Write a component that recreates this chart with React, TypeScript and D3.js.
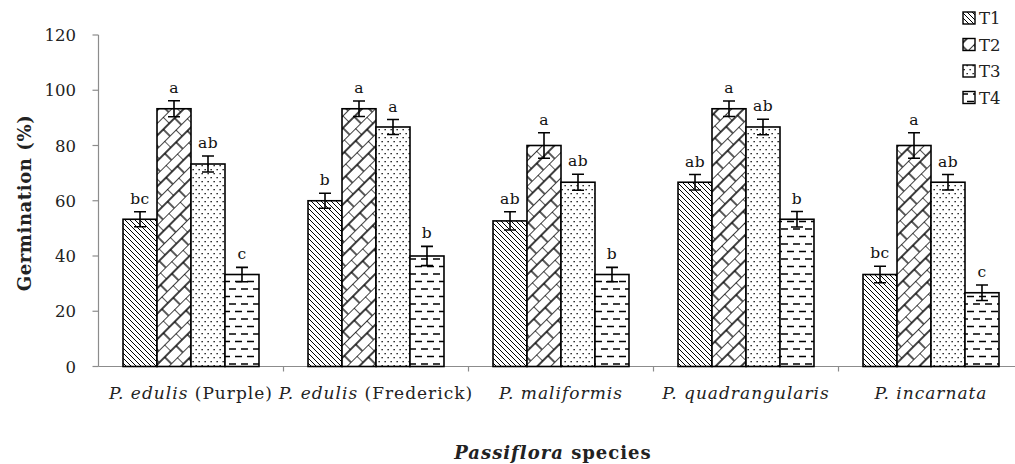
import { useRef, useEffect } from 'react';
import * as d3 from 'd3';

// Germination (%) per species and treatment
const SPECIES = ['P. edulis (Purple)', 'P. edulis (Frederick)', 'P. maliformis', 'P. quadrangularis', 'P. incarnata'];
const SPECIES_ITALIC = ['P. edulis', 'P. edulis', 'P. maliformis', 'P. quadrangularis', 'P. incarnata'];
const SPECIES_PLAIN = [' (Purple)', ' (Frederick)', '', '', ''];
const TREATMENTS = ['T1', 'T2', 'T3', 'T4'];
const T1 = [53.3, 60, 52.7, 66.7, 33.3];
const T2 = [93.3, 93.3, 80, 93.3, 80];
const T3 = [73.3, 86.7, 66.7, 86.7, 66.7];
const T4 = [33.3, 40, 33.3, 53.3, 26.7];
const ERR_T1 = [2.7, 2.7, 3.3, 2.8, 3.0];
const ERR_T2 = [2.9, 2.8, 4.6, 2.8, 4.6];
const ERR_T3 = [2.9, 2.7, 2.9, 2.8, 2.8];
const ERR_T4 = [2.6, 3.5, 2.6, 2.8, 2.8];
const LET_T1 = ['bc', 'b', 'ab', 'ab', 'bc'];
const LET_T2 = ['a', 'a', 'a', 'a', 'a'];
const LET_T3 = ['ab', 'a', 'ab', 'ab', 'ab'];
const LET_T4 = ['c', 'b', 'b', 'b', 'c'];
const Y_TICKS = [0, 20, 40, 60, 80, 100, 120];

const SERIES = [
  { key: 'T1', values: T1, err: ERR_T1, letters: LET_T1 },
  { key: 'T2', values: T2, err: ERR_T2, letters: LET_T2 },
  { key: 'T3', values: T3, err: ERR_T3, letters: LET_T3 },
  { key: 'T4', values: T4, err: ERR_T4, letters: LET_T4 },
];

const FONT = "'DejaVu Serif', serif";

export default function App() {
  const ref = useRef<SVGSVGElement>(null);

  useEffect(() => {
    const svg = ref.current;
    if (!svg) return;
    const W = 1015, H = 464;
    const x0 = 98.5, y0 = 366.5, yTop = 35;

    const root = d3.select(svg);
    root.selectAll('*').remove();
    root.attr('width', W).attr('height', H).attr('viewBox', `0 0 ${W} ${H}`);

    // Fill patterns
    const defs = root.append('defs');
    const p1 = defs.append('pattern').attr('id', 'pT1').attr('patternUnits', 'userSpaceOnUse').attr('width', 5).attr('height', 5);
    p1.append('path').attr('d', 'M0,0 L5,5 M-1,4 L1,6 M4,-1 L6,1').attr('stroke', '#000').attr('stroke-width', 1);

    const p2 = defs.append('pattern').attr('id', 'pT2').attr('patternUnits', 'userSpaceOnUse')
      .attr('width', 16).attr('height', 18).attr('patternTransform', 'rotate(-45)');
    p2.append('path').attr('d', 'M0,0 H16 M0,9 H16 M0,0 V9 M8,9 V18').attr('stroke', '#000').attr('stroke-width', 1.3).attr('fill', 'none');

    const p3 = defs.append('pattern').attr('id', 'pT3').attr('patternUnits', 'userSpaceOnUse').attr('width', 6).attr('height', 8);
    p3.append('rect').attr('x', 0.5).attr('y', 1).attr('width', 1.3).attr('height', 1.3).attr('fill', '#000');
    p3.append('rect').attr('x', 3.5).attr('y', 5).attr('width', 1.3).attr('height', 1.3).attr('fill', '#000');

    const p4 = defs.append('pattern').attr('id', 'pT4').attr('patternUnits', 'userSpaceOnUse').attr('width', 12).attr('height', 15);
    p4.append('path').attr('d', 'M1,4 H8 M7,11.5 H14 M-5,11.5 H2').attr('stroke', '#000').attr('stroke-width', 1.4);

    const g = root.append('g').attr('font-family', FONT);

    const xScale = d3.scaleBand<string>().domain(SPECIES).range([x0, x0 + 5 * 185]).paddingInner(0.265).paddingOuter(0.1325);
    const xSub = d3.scaleBand<string>().domain(TREATMENTS).range([0, xScale.bandwidth()]);
    const yScale = d3.scaleLinear().domain([0, 120]).range([y0, yTop]);

    // Y axis
    g.append('line').attr('x1', x0).attr('x2', x0).attr('y1', yTop).attr('y2', y0).attr('stroke', '#8c8c8c').attr('stroke-width', 1.2);
    Y_TICKS.forEach((v) => {
      g.append('line').attr('x1', x0 - 6).attr('x2', x0).attr('y1', yScale(v)).attr('y2', yScale(v)).attr('stroke', '#8c8c8c').attr('stroke-width', 1.2);
      g.append('text').attr('x', 76).attr('y', yScale(v) + 6).attr('text-anchor', 'end')
        .attr('font-size', 16.5).attr('fill', '#222').text(v);
    });

    // X axis
    g.append('line').attr('x1', x0).attr('x2', W).attr('y1', y0).attr('y2', y0).attr('stroke', '#8c8c8c').attr('stroke-width', 1.2);
    SPECIES.forEach((s, i) => {
      if (i === 0) return;
      const bx = x0 + i * xScale.step();
      g.append('line').attr('x1', bx).attr('x2', bx).attr('y1', y0).attr('y2', y0 + 5).attr('stroke', '#8c8c8c').attr('stroke-width', 1.2);
    });

    // Bars, error bars, letters
    SERIES.forEach((sr) => {
      SPECIES.forEach((s, i) => {
        const bx = (xScale(s) as number) + (xSub(sr.key) as number);
        const bw = xSub.bandwidth();
        const v = sr.values[i];
        g.append('rect').attr('x', bx).attr('y', yScale(v)).attr('width', bw).attr('height', y0 - yScale(v))
          .attr('fill', '#fff');
        g.append('rect').attr('x', bx).attr('y', yScale(v)).attr('width', bw).attr('height', y0 - yScale(v))
          .attr('fill', `url(#p${sr.key})`).attr('stroke', '#000').attr('stroke-width', 1.6);
        const cx = bx + bw / 2;
        const hi = yScale(v + sr.err[i]), lo = yScale(v - sr.err[i]);
        g.append('path').attr('d', `M${cx - 6},${hi} H${cx + 6} M${cx},${hi} V${lo} M${cx - 6},${lo} H${cx + 6}`)
          .attr('stroke', '#000').attr('stroke-width', 1.6).attr('fill', 'none');
        g.append('text').attr('x', cx).attr('y', hi - 8).attr('text-anchor', 'middle')
          .attr('font-size', 15.5).attr('letter-spacing', 0.4).attr('fill', '#111').text(sr.letters[i]);
      });
    });

    // Category labels
    SPECIES.forEach((s, i) => {
      const t = g.append('text').attr('x', (xScale(s) as number) + xScale.bandwidth() / 2).attr('y', 399)
        .attr('text-anchor', 'middle').attr('font-size', 17).attr('letter-spacing', 1).attr('fill', '#222');
      t.append('tspan').attr('font-style', 'italic').text(SPECIES_ITALIC[i]);
      if (SPECIES_PLAIN[i]) t.append('tspan').text(SPECIES_PLAIN[i]);
    });

    // Axis titles
    const xt = g.append('text').attr('x', 553).attr('y', 459).attr('text-anchor', 'middle')
      .attr('font-size', 18).attr('letter-spacing', 1).attr('font-weight', 'bold').attr('fill', '#222');
    xt.append('tspan').attr('font-style', 'italic').text('Passiflora');
    xt.append('tspan').text(' species');

    g.append('text').attr('transform', `translate(31,203) rotate(-90)`).attr('text-anchor', 'middle')
      .attr('font-size', 18).attr('letter-spacing', 0.6).attr('font-weight', 'bold').attr('fill', '#222').text('Germination (%)');

    // Legend
    TREATMENTS.forEach((t, i) => {
      const ly = 18 + i * 26.5;
      g.append('rect').attr('x', 963).attr('y', ly - 6).attr('width', 12).attr('height', 12).attr('fill', '#fff');
      g.append('rect').attr('x', 963).attr('y', ly - 6).attr('width', 12).attr('height', 12)
        .attr('fill', `url(#p${t})`).attr('stroke', '#000').attr('stroke-width', 1.4);
      g.append('text').attr('x', 979).attr('y', ly + 6).attr('font-size', 16.5).attr('fill', '#222').text(t);
    });
  }, []);

  return (
    <div style={{ position: 'absolute', left: 0, top: 0, width: 1015, height: 464, background: '#fff' }}>
      <svg ref={ref} style={{ display: 'block' }} />
    </div>
  );
}
